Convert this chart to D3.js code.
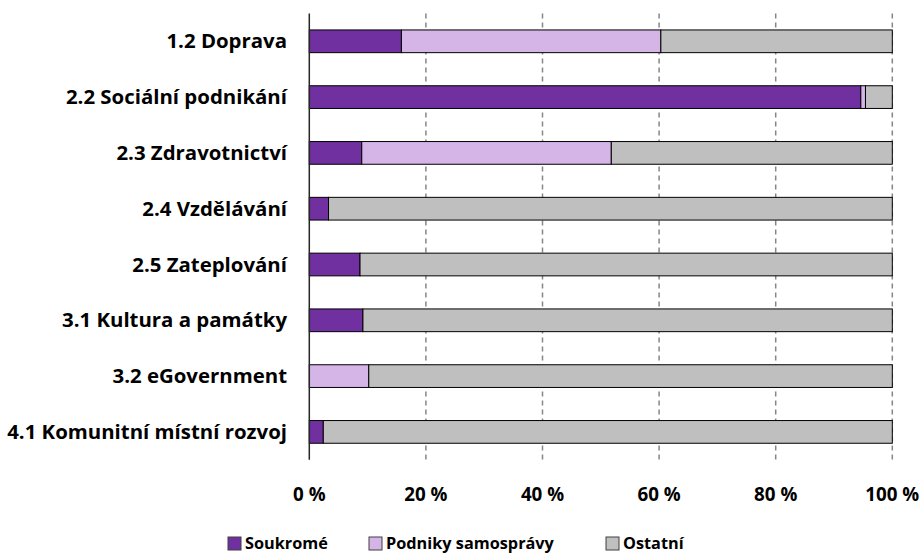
<!DOCTYPE html>
<html><head><meta charset="utf-8">
<script src="https://cdn.jsdelivr.net/npm/d3@7"></script>
<style>body{margin:0;background:#fff}svg{display:block}text{font-family:"Open Sans",Lato,sans-serif;font-weight:700;fill:#000}</style>
</head><body>
<svg id="c" width="924" height="554"></svg>
<script>
const categories = ["1.2 Doprava","2.2 Sociální podnikání","2.3 Zdravotnictví","2.4 Vzdělávání","2.5 Zateplování","3.1 Kultura a památky","3.2 eGovernment","4.1 Komunitní místní rozvoj"];
const soukrome = [15.8, 94.6, 9.0, 3.3, 8.7, 9.2, 0, 2.4];
const podniky  = [44.5, 0.8, 42.8, 0, 0, 0, 10.2, 0];
const ostatni  = [39.7, 4.6, 48.2, 96.7, 91.3, 90.8, 89.8, 97.6];
const seriesNames = ["Soukromé","Podniky samosprávy","Ostatní"];
const colors = ["#7030A0","#D5B4E8","#BFBFBF"];
const xTicks = [0,20,40,60,80,100];
const xTickLabels = ["0 %","20 %","40 %","60 %","80 %","100 %"];

const svg = d3.select("#c");
const x = d3.scaleLinear().domain([0,100]).range([309.3, 892.3]);
const y = d3.scaleBand().domain(categories).range([13.4, 459.8]).paddingInner(0.593).paddingOuter(0.2965);

// font-size fitting helper: find size so that a text spans the target width
function fitSize(str, target){
  const t = svg.append("text").attr("font-size",20).text(str);
  const w = t.node().getComputedTextLength();
  t.remove();
  return 20*target/w;
}
const labelSize = fitSize("4.1 Komunitní místní rozvoj", 280);
const tickSize = fitSize("100 %", 54);
const legSize = fitSize("Podniky samosprávy", 168);

const rows = categories.map((c,i)=>({cat:c, values:[soukrome[i], podniky[i], ostatni[i]]}));
const stack = d3.stack().keys([0,1,2]).value((d,k)=>d.values[k]);
const stacked = stack(rows);

// gridlines
svg.append("g").selectAll("line").data(xTicks.filter(t=>t>0)).join("line")
  .attr("x1",d=>x(d)).attr("x2",d=>x(d)).attr("y1",13.4).attr("y2",459.8)
  .attr("stroke","#868686").attr("stroke-width",1.5).attr("stroke-dasharray","5,4");

// bars
svg.append("g").selectAll("g").data(stacked).join("g")
  .attr("fill",(d,i)=>colors[i])
  .selectAll("rect").data(d=>d.filter(s=>s[1]-s[0]>0)).join("rect")
  .attr("x",d=>x(d[0])).attr("width",d=>x(d[1])-x(d[0]))
  .attr("y",d=>y(d.data.cat)).attr("height",y.bandwidth())
  .attr("stroke","#000").attr("stroke-width",1);

// y axis line
svg.append("line").attr("x1",x(0)).attr("x2",x(0)).attr("y1",13.4).attr("y2",459.8)
  .attr("stroke","#262626").attr("stroke-width",1.5);

// category labels
svg.append("g").selectAll("text").data(categories).join("text")
  .attr("x",287).attr("y",d=>y(d)+y.bandwidth()/2).attr("dy","0.35em")
  .attr("text-anchor","end").attr("font-size",labelSize).text(d=>d);

// x tick labels
svg.append("g").selectAll("text").data(xTicks).join("text")
  .attr("x",d=>x(d)).attr("y",494).attr("dy","0.35em")
  .attr("text-anchor","middle").attr("font-size",tickSize).text((d,i)=>xTickLabels[i]);

// legend
const lg = svg.append("g");
const legX = [228, 369, 606];
seriesNames.forEach((n,i)=>{
  lg.append("rect").attr("x",legX[i]).attr("y",537).attr("width",13).attr("height",13)
    .attr("fill",colors[i]).attr("stroke","#404040").attr("stroke-width",1);
  lg.append("text").attr("x",legX[i]+17).attr("y",543.5).attr("dy","0.35em")
    .attr("font-size",legSize).text(n);
});
</script>
</body></html>
